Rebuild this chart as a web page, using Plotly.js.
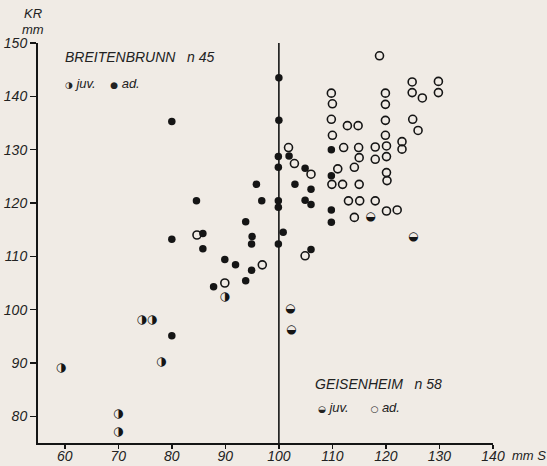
<!DOCTYPE html>
<html>
<head>
<meta charset="utf-8">
<script src="https://cdn.plot.ly/plotly-3.0.1.min.js"></script>
<style>html,body{margin:0;padding:0;background:#f0ebe5;}#chart{width:547px;height:466px;}</style>
</head>
<body>
<div id="chart"></div>
<script>
// Breitenbrunn adults (filled dots): S (mm), KR (mm)
var breitAdX = [80, 84.6, 80, 85.8, 85.8, 89.9, 91.9, 87.8, 100, 100, 101.9, 99.9, 99.9, 104.9, 109.8, 109.8, 109.8, 109.8, 95.8, 96.8, 103, 106, 104.9, 106, 99.9, 99.9, 93.8, 95, 94.9, 100.8, 99.9, 94.9, 93.8, 106, 80];
var breitAdY = [135.3, 120.4, 113.2, 114.3, 111.4, 109.4, 108.4, 104.3, 143.5, 135.5, 128.8, 128.7, 126.7, 126.5, 130.0, 125.1, 118.7, 116.4, 123.5, 120.4, 123.5, 122.6, 120.5, 119.7, 120.4, 119.2, 116.5, 113.7, 112.3, 114.5, 112.3, 107.4, 105.4, 111.3, 95.1];
// Breitenbrunn juveniles (half-filled)
var breitJuvX = [70, 70, 59.3, 89.9, 74.4, 76.3, 78];
var breitJuvY = [80.4, 77.1, 89.0, 102.3, 98, 98, 90.2];
// Geisenheim adults (open circles)
var geisAdX = [118.8, 124.9, 129.8, 109.8, 119.9, 124.9, 129.8, 126.8, 110, 119.9, 109.8, 119.9, 125, 112.8, 114.8, 110, 119.9, 126, 123, 123, 112.1, 114.9, 118, 120.1, 115, 118, 120.1, 114.1, 106, 111, 120.1, 120.2, 109.9, 111.9, 115, 113, 115.1, 118, 120.1, 122.1, 114.1, 104.9, 102.9, 101.8, 89.9, 84.7, 96.9];
var geisAdY = [147.6, 142.7, 142.8, 140.6, 140.6, 140.7, 140.7, 139.7, 138.6, 138.5, 135.7, 135.5, 135.7, 134.5, 134.5, 132.7, 132.7, 133.6, 131.5, 130.1, 130.4, 130.4, 130.5, 130.7, 128.5, 128.2, 128.7, 126.7, 125.4, 126.4, 125.7, 124.2, 123.5, 123.5, 123.5, 120.4, 120.4, 120.4, 118.5, 118.7, 117.3, 110.1, 127.4, 130.4, 105, 114.0, 108.4];
// Geisenheim juveniles (half-filled, lower half black)
var geisJuvX = [102.1, 102.3, 117.1, 125.1];
var geisJuvY = [100.1, 96.1, 117.3, 113.6];
// reference line at S = 100 mm
var refX = [100, 100];
var refY = [75, 150];
var xTicks = [60, 70, 80, 90, 100, 110, 120, 130, 140];
var yTicks = [80, 90, 100, 110, 120, 130, 140, 150];

var ink = '#151515';
var fnt = 'Liberation Sans, Arial, sans-serif';

function rep(s, n){ var a=[]; for(var i=0;i<n;i++) a.push(s); return a; }

var traces = [
  {x: refX, y: refY, mode: 'lines', line: {color: ink, width: 1.6}, hoverinfo: 'skip', showlegend: false},
  {x: geisAdX, y: geisAdY, mode: 'markers', marker: {symbol: 'circle-open', size: 8, color: ink, line: {width: 1.6, color: ink}}, showlegend: false},
  {x: breitAdX, y: breitAdY, mode: 'markers', marker: {symbol: 'circle', size: 7.5, color: ink}, showlegend: false},
  {x: breitJuvX, y: breitJuvY, mode: 'text', text: rep('\u25D1', breitJuvX.length), textposition: 'middle center', textfont: {family: 'DejaVu Sans', size: 12, color: ink}, showlegend: false},
  {x: geisJuvX, y: geisJuvY, mode: 'text', text: rep('\u25D2', geisJuvX.length), textposition: 'middle center', textfont: {family: 'DejaVu Sans', size: 12, color: ink}, showlegend: false}
];

var tf = {family: fnt, size: 14, color: '#222', style: 'italic'};

var layout = {
  width: 547, height: 466,
  margin: {l: 38, r: 54, t: 43, b: 23},
  paper_bgcolor: '#f0ebe5', plot_bgcolor: '#f0ebe5',
  showlegend: false,
  xaxis: {range: [55, 140], tickvals: xTicks, ticktext: xTicks.map(String), showgrid: false, zeroline: false,
    showline: true, linecolor: ink, linewidth: 2, ticks: 'outside', ticklen: 4, tickwidth: 1.5, tickcolor: ink,
    ticklabelstandoff: -5, tickfont: tf},
  yaxis: {range: [75, 150], tickvals: yTicks, ticktext: yTicks.map(String), showgrid: false, zeroline: false,
    showline: true, linecolor: ink, linewidth: 2, ticks: 'outside', ticklen: 6, tickwidth: 1.5, tickcolor: ink,
    tickfont: tf},
  annotations: [
    {xref: 'paper', yref: 'paper', x: -0.011, y: 1.0725, text: 'KR', showarrow: false, xanchor: 'center', yanchor: 'middle', font: {family: fnt, size: 13, color: '#222', style: 'italic'}},
    {xref: 'paper', yref: 'paper', x: -0.011, y: 1.035, text: 'mm', showarrow: false, xanchor: 'center', yanchor: 'middle', font: {family: fnt, size: 13, color: '#222', style: 'italic'}},
    {xref: 'paper', yref: 'paper', x: 1.038, y: -0.03, text: 'mm S', showarrow: false, xanchor: 'left', yanchor: 'middle', font: {family: fnt, size: 13, color: '#222', style: 'italic'}},
    {xref: 'paper', yref: 'paper', x: 0.055, y: 0.965, text: 'BREITENBRUNN&nbsp;&nbsp;&nbsp;n 45', showarrow: false, xanchor: 'left', yanchor: 'middle', font: tf},
    {xref: 'paper', yref: 'paper', x: 0.055, y: 0.898, text: '<span style="font-family:DejaVu Sans;font-style:normal;font-size:9px">\u25D1</span> juv.&nbsp;&nbsp;&nbsp;&nbsp;<span style="font-family:DejaVu Sans;font-style:normal;font-size:9px">\u25CF</span> ad.', showarrow: false, xanchor: 'left', yanchor: 'middle', font: {family: fnt, size: 13, color: '#222', style: 'italic'}},
    {xref: 'paper', yref: 'paper', x: 0.605, y: 0.148, text: 'GEISENHEIM&nbsp;&nbsp;&nbsp;n 58', showarrow: false, xanchor: 'left', yanchor: 'middle', font: tf},
    {xref: 'paper', yref: 'paper', x: 0.61, y: 0.09, text: '<span style="font-family:DejaVu Sans;font-style:normal;font-size:9px">\u25D2</span> juv.&nbsp;&nbsp;&nbsp;&nbsp;&nbsp;&nbsp;<span style="font-family:DejaVu Sans;font-style:normal;font-size:9px">\u25CB</span> ad.', showarrow: false, xanchor: 'left', yanchor: 'middle', font: {family: fnt, size: 13, color: '#222', style: 'italic'}}
  ]
};

Plotly.newPlot('chart', traces, layout, {displayModeBar: false, staticPlot: true});
</script>
</body>
</html>
